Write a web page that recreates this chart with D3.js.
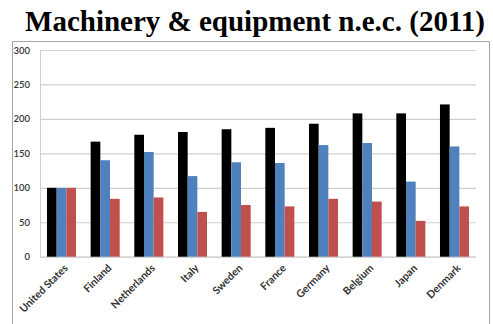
<!DOCTYPE html>
<html>
<head>
<meta charset="utf-8">
<script src="https://cdn.jsdelivr.net/npm/d3@7"></script>
<style>
  html, body { margin: 0; padding: 0; background: #fff; }
  svg { display: block; }
</style>
</head>
<body>
<svg id="chart" width="493" height="324"></svg>
<script>
// Index values (United States = 100) for machinery & equipment n.e.c., 2011
const countries = ["United States", "Finland", "Netherlands", "Italy", "Sweden",
                   "France", "Germany", "Belgium", "Japan", "Denmark"];
const seriesBlack = [100, 167, 177, 181, 185, 187, 193, 208, 208, 221];
const seriesBlue  = [100, 140, 152, 117, 137, 136, 162, 165, 109, 160];
const seriesRed   = [100,  84,  86,  65,  75,  73,  84,  80,  52,  73];
const yTicks = [0, 50, 100, 150, 200, 250, 300];

const seriesList = [
  { key: "a", values: seriesBlack, color: "#000000" },
  { key: "b", values: seriesBlue,  color: "#4f81bd" },
  { key: "c", values: seriesRed,   color: "#c0504d" }
];

const svg = d3.select("#chart");

// Title
svg.append("text")
  .attr("x", 255).attr("y", 31)
  .attr("text-anchor", "middle")
  .attr("font-family", "'Liberation Serif', 'Times New Roman', serif")
  .attr("font-weight", "bold")
  .attr("font-size", 29)
  .attr("fill", "#000")
  .text("Machinery & equipment n.e.c. (2011)");

// Chart frame (open at the bottom edge)
svg.append("path")
  .attr("d", "M12.5,324 V41.5 H489.5 V324")
  .attr("fill", "none")
  .attr("stroke", "#a6a6a6")
  .attr("stroke-width", 1);

const plot = { left: 40, right: 476, top: 50, bottom: 256.7 };

const x = d3.scaleBand()
  .domain(countries)
  .range([plot.left, plot.right])
  .paddingInner(0.335)
  .paddingOuter(0.16);

const xs = d3.scaleBand()
  .domain(seriesList.map(s => s.key))
  .range([0, x.bandwidth()]);

const y = d3.scaleLinear().domain([0, 300]).range([plot.bottom, plot.top]);

// Gridlines and value labels
const yAxis = d3.axisLeft(y).tickValues(yTicks)
  .tickSize(-(plot.right - plot.left)).tickPadding(10);
const gy = svg.append("g")
  .attr("transform", `translate(${plot.left},0)`)
  .call(yAxis);
gy.select(".domain").attr("stroke", "#d0d0d0");
gy.selectAll(".tick line").attr("stroke", "#d0d0d0").attr("stroke-width", 1.2);
gy.selectAll(".tick text")
  .attr("font-family", "Lato, 'Open Sans', sans-serif")
  .attr("font-size", 9.5)
  .attr("font-weight", 600)
  .attr("fill", "#333");

// Bars
const groups = svg.append("g").selectAll("g")
  .data(countries)
  .join("g")
  .attr("transform", d => `translate(${x(d)},0)`);

groups.selectAll("rect")
  .data((d, i) => seriesList.map(s => ({ key: s.key, value: s.values[i], color: s.color })))
  .join("rect")
  .attr("x", d => xs(d.key))
  .attr("width", xs.bandwidth())
  .attr("y", d => y(d.value))
  .attr("height", d => y(0) - y(d.value))
  .attr("fill", d => d.color);

// Category labels, rotated
const xAxis = d3.axisBottom(x).tickSize(0).tickPadding(0);
const gx = svg.append("g")
  .attr("transform", `translate(0,${plot.bottom})`)
  .call(xAxis);
gx.select(".domain").remove();
gx.selectAll(".tick text")
  .attr("font-family", "Lato, 'Open Sans', sans-serif")
  .attr("font-size", 10.5)
  .attr("font-weight", "bold")
  .attr("fill", "#333")
  .attr("text-anchor", "end")
  .attr("dy", 0)
  .attr("transform", "translate(7,12) rotate(-45)");
</script>
</body>
</html>
